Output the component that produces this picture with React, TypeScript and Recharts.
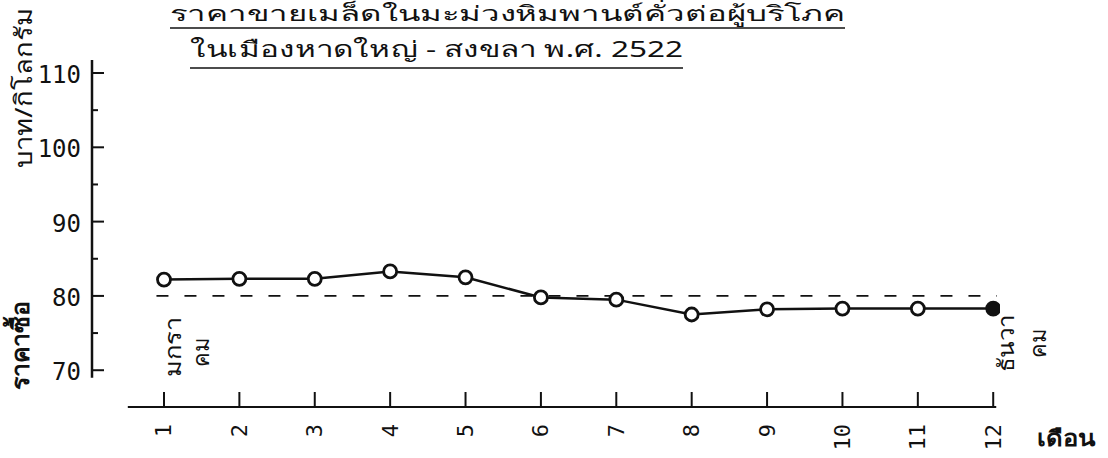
import React from "react";
import { LineChart, Line, XAxis, YAxis, ReferenceLine } from "recharts";

// ราคาขายเมล็ดมะม่วงหิมพานต์คั่ว (บาท/กก.) รายเดือน พ.ศ. 2522
const months = [1, 2, 3, 4, 5, 6, 7, 8, 9, 10, 11, 12];
const prices = [82.2, 82.3, 82.3, 83.3, 82.5, 79.8, 79.5, 77.5, 78.2, 78.3, 78.3, 78.3];
const yTicks = [70, 75, 80, 85, 90, 95, 100, 105, 110];
const buyPrice = 80;

const TITLE_1 = "ราคาขายเมล็ดในมะม่วงหิมพานต์คั่วต่อผู้บริโภค";
const TITLE_2 = "ในเมืองหาดใหญ่ - สงขลา พ.ศ. 2522";

const W = 1108;
const H = 458;
const X_DOMAIN: [number, number] = [0.045, 12.09];
const Y_DOMAIN: [number, number] = [65.05, 111.75];
const INK = "#111";
const MONO = "'DejaVu Sans Mono', 'Liberation Mono', monospace";
const THAI = "'Noto Sans', 'DejaVu Sans', sans-serif";

const data = months.map((m, i) => ({ month: m, price: prices[i] }));

function MonthTick({ x, y, payload }: any) {
  const ty = y + 17;
  return (
    <g>
      <line x1={x} y1={y} x2={x} y2={y - 15} stroke={INK} strokeWidth={2} />
      <text
        x={x}
        y={ty}
        transform={`rotate(-90 ${x} ${ty})`}
        textAnchor="end"
        dominantBaseline="central"
        fontFamily={MONO}
        fontSize={22}
        fill={INK}
      >
        {payload.value}
      </text>
    </g>
  );
}

function PriceTick({ x, y, payload }: any) {
  const major = payload.value % 10 === 0;
  return (
    <g>
      <line x1={x} y1={y} x2={x + (major ? 12 : 6)} y2={y} stroke={INK} strokeWidth={2} />
      {major && (
        <text x={x - 11} y={y + 2} textAnchor="end" dominantBaseline="central" fontFamily={MONO} fontSize={24} fill={INK}>
          {payload.value}
        </text>
      )}
    </g>
  );
}

function PriceDot({ cx, cy, index }: any) {
  const last = index === prices.length - 1;
  return (
    <circle
      key={index}
      cx={cx}
      cy={cy}
      r={6.5}
      fill={last ? INK : "#fff"}
      stroke={INK}
      strokeWidth={2.8}
    />
  );
}

function VText({ x, y, len, children, size = 22, weight = 400 }: any) {
  // ข้อความแนวตั้ง อ่านจากล่างขึ้นบน, (x, y) = จุดเริ่มต้น (ด้านล่าง)
  return (
    <text
      x={x}
      y={y}
      transform={`rotate(-90 ${x} ${y})`}
      dominantBaseline="central"
      fontFamily={THAI}
      fontSize={size}
      fontWeight={weight}
      fill={INK}
      textLength={len}
      lengthAdjust="spacingAndGlyphs"
    >
      {children}
    </text>
  );
}

export default function App() {
  return (
    <div style={{ position: "absolute", left: 0, top: 0, width: W, height: H, background: "#fff" }}>
      <LineChart width={W} height={H} data={data} margin={{ top: 60, right: 108, bottom: 0, left: 0 }}>
        <XAxis
          dataKey="month"
          type="number"
          domain={X_DOMAIN}
          ticks={months}
          allowDataOverflow
          axisLine={false}
          tickLine={false}
          tickSize={0}
          tickMargin={0}
          height={51}
          tick={<MonthTick />}
          interval={0}
        />
        <YAxis
          type="number"
          domain={Y_DOMAIN}
          ticks={yTicks}
          allowDataOverflow
          axisLine={false}
          tickLine={false}
          tickSize={0}
          tickMargin={0}
          width={92}
          tick={<PriceTick />}
          interval={0}
        />
        {/* แกนตั้ง */}
        <ReferenceLine
          segment={[{ x: X_DOMAIN[0], y: 69 }, { x: X_DOMAIN[0], y: Y_DOMAIN[1] }]}
          stroke={INK}
          strokeWidth={2.5}
        />
        {/* แกนนอน */}
        <ReferenceLine
          segment={[{ x: 0.52, y: Y_DOMAIN[0] }, { x: 12.04, y: Y_DOMAIN[0] }]}
          stroke={INK}
          strokeWidth={2}
        />
        {/* ราคาซื้อ */}
        <ReferenceLine
          segment={[{ x: 0.9, y: buyPrice }, { x: 12.05, y: buyPrice }]}
          stroke={INK}
          strokeWidth={1.8}
          strokeDasharray="12 16"
        />
        <Line
          type="linear"
          dataKey="price"
          stroke={INK}
          strokeWidth={2.5}
          dot={<PriceDot />}
          activeDot={false}
          isAnimationActive={false}
        />
      </LineChart>
      <svg width={W} height={H} style={{ position: "absolute", left: 0, top: 0, pointerEvents: "none" }}>
        <text x={170} y={21} fontFamily={THAI} fontSize={21} fill={INK} textLength={675} lengthAdjust="spacingAndGlyphs">
          {TITLE_1}
        </text>
        <line x1={170} y1={28} x2={845} y2={28} stroke={INK} strokeWidth={1.5} />
        <text x={190} y={57} fontFamily={THAI} fontSize={22} fill={INK} textLength={493} lengthAdjust="spacingAndGlyphs">
          {TITLE_2}
        </text>
        <line x1={190} y1={68} x2={683} y2={68} stroke={INK} strokeWidth={1.5} />

        <VText x={22} y={168} len={160} size={24}>บาท/กิโลกรัม</VText>
        <VText x={19} y={390} len={88} size={24} weight={700}>ราคาซื้อ</VText>

        <VText x={172} y={377} len={60}>มกรา</VText>
        <VText x={200} y={367} len={30}>คม</VText>
        <VText x={1005} y={372} len={57}>ธันวา</VText>
        <VText x={1037} y={358} len={30}>คม</VText>

        <text
          x={1037}
          y={437}
          dominantBaseline="central"
          fontFamily={THAI}
          fontSize={22}
          fontWeight={700}
          fill={INK}
          textLength={58}
          lengthAdjust="spacingAndGlyphs"
        >
          เดือน
        </text>
      </svg>
    </div>
  );
}
